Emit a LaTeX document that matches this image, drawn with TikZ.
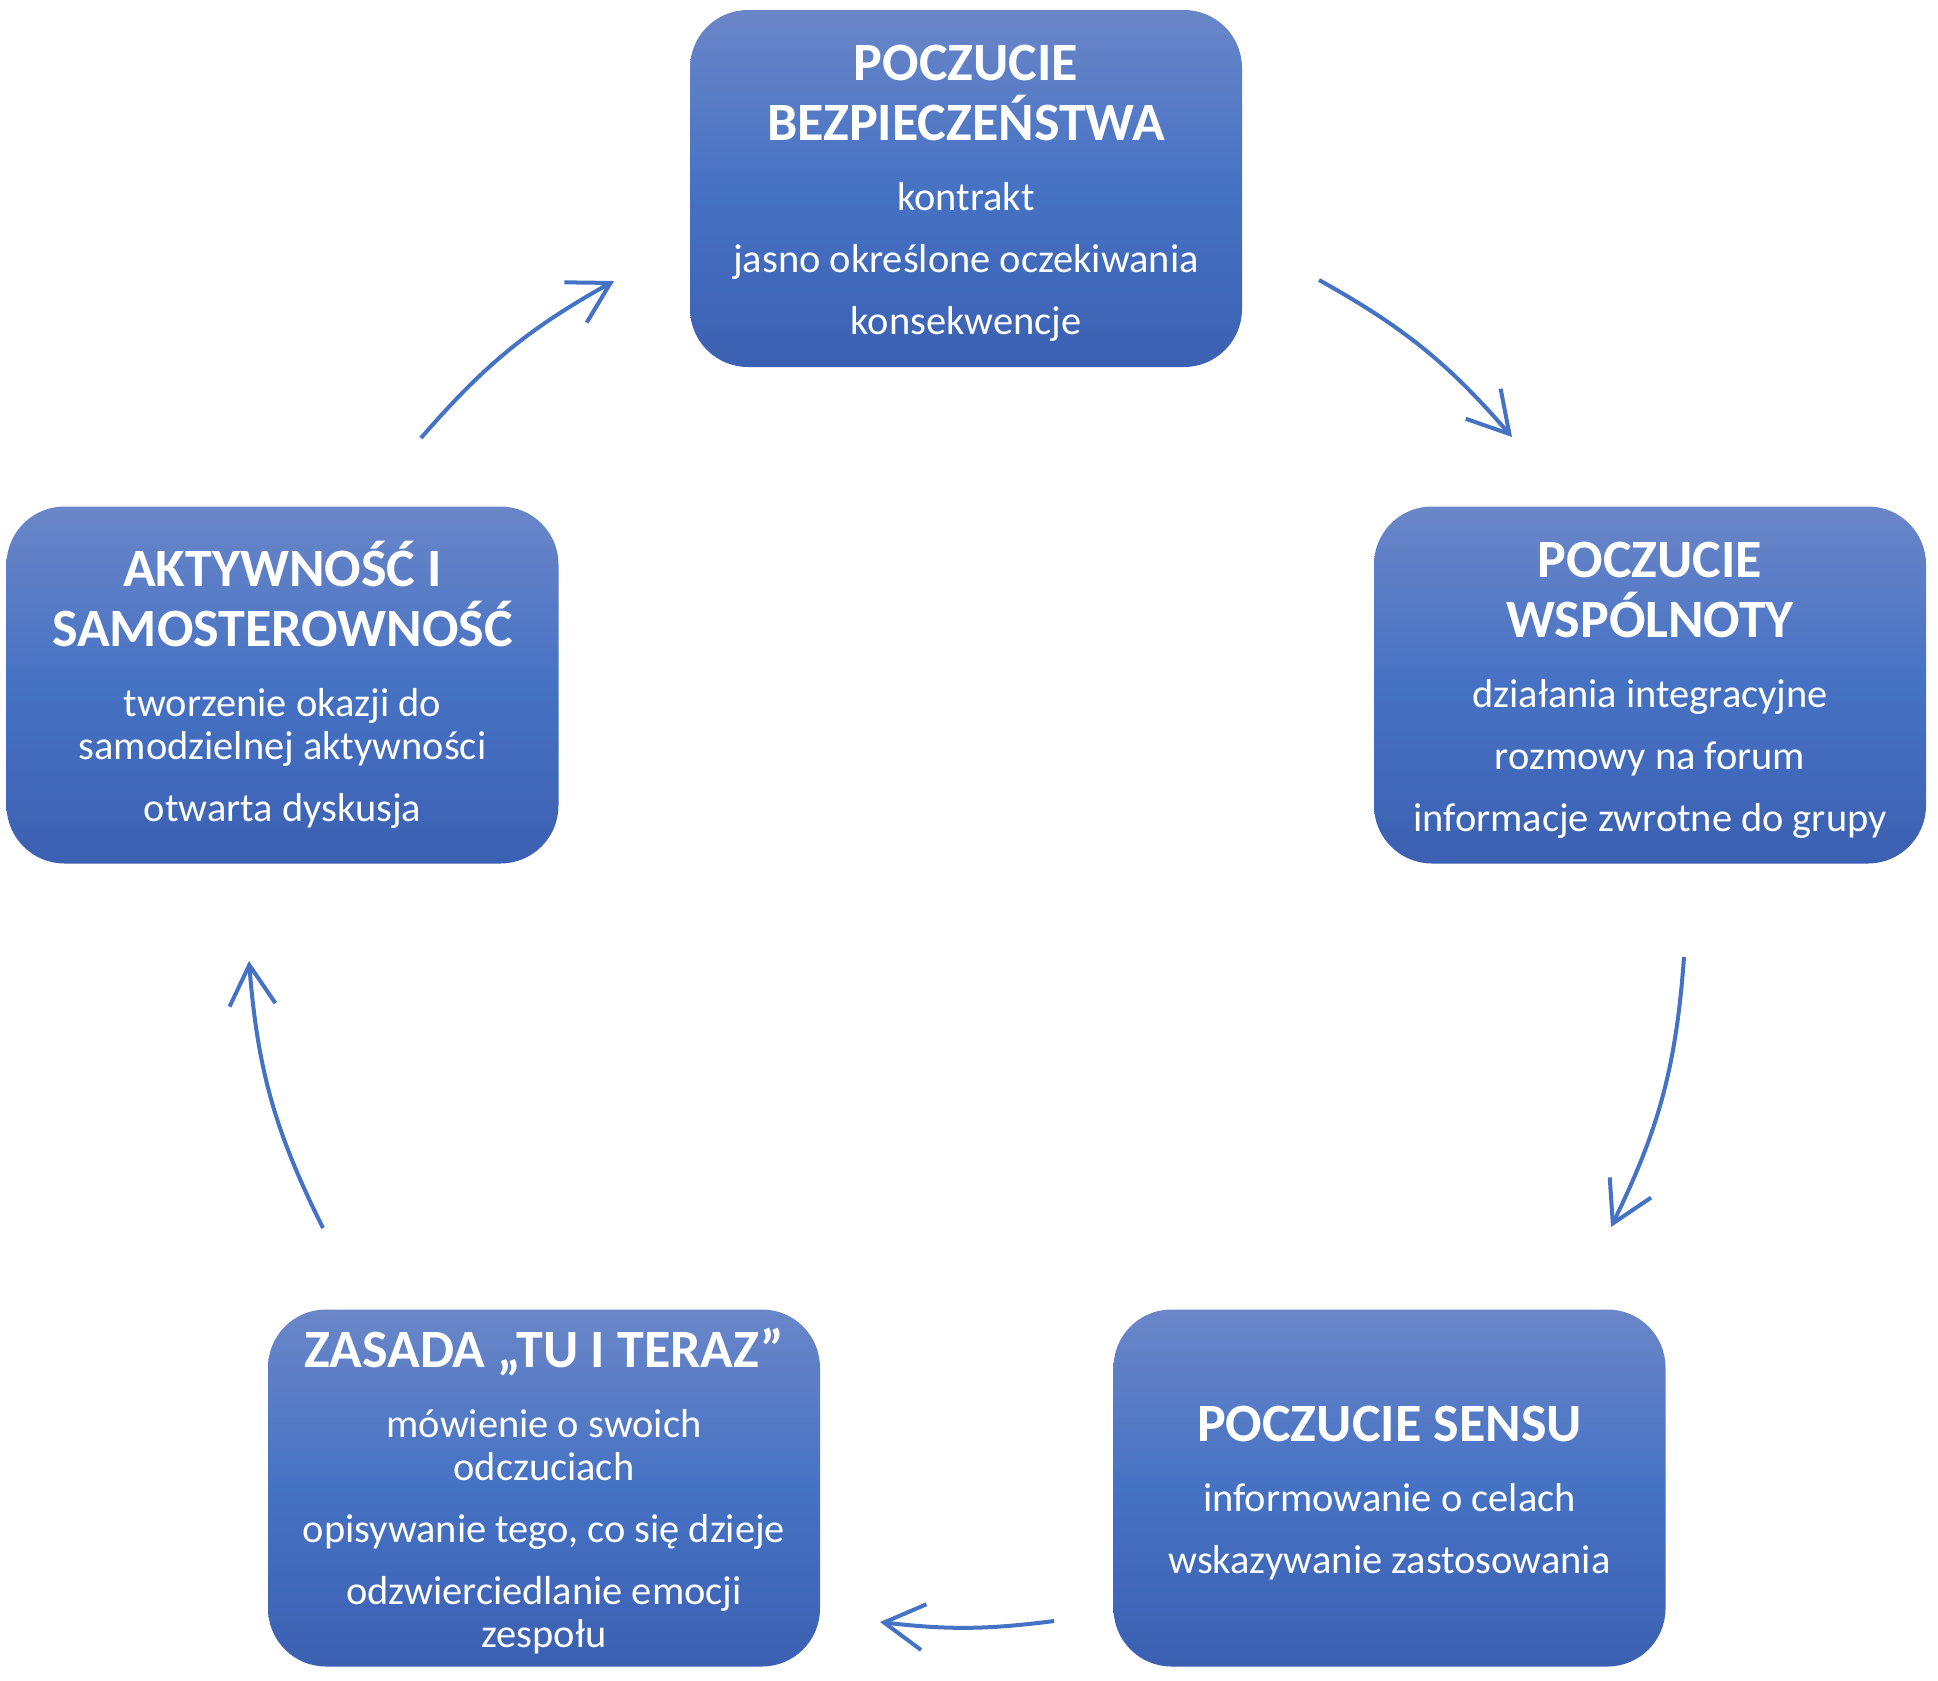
\documentclass[tikz,border=0pt]{standalone}
\usepackage{fontspec}
\setmainfont{Carlito}
\usetikzlibrary{arrows.meta}

\definecolor{boxtop}{RGB}{106,134,200}
\definecolor{boxmid}{RGB}{70,114,196}
\definecolor{boxbot}{RGB}{60,96,178}
\definecolor{arrowblue}{RGB}{68,114,196}

\newcommand{\phasefont}{\fontsize{20.2}{21.5}\selectfont\lineskiplimit=-100pt\relax}
\newcommand{\phasetitle}[1]{{\rule{0pt}{22.5pt}\bfseries\fontsize{27}{30}\selectfont #1}}

\tikzset{
  phase/.style={rounded corners=29pt, minimum width=276pt, minimum height=178.5pt,
    inner sep=0pt, top color=boxtop, bottom color=boxbot, middle color=boxmid,
    text=white, align=center, font=\phasefont},
  cyclearrow/.style={draw=arrowblue, line width=2pt,
    -{Straight Barb[length=20pt,width=23pt]}}
}

\begin{document}
\begin{tikzpicture}[x=0.5pt, y=-0.5pt]
        \useasboundingbox (0,0) rectangle (1938,1681);

        % 1. The five boxes
        \node[phase] (safety) at (966,188.5) {\phasetitle{POCZUCIE}\\[8.5pt]
            \phasetitle{BEZPIECZEŃSTWA}\\[13.5pt]
            kontrakt\\[9.5pt]
            jasno określone oczekiwania\\[9.5pt]
            konsekwencje};

        \node[phase] (community) at (1650,685) {\phasetitle{POCZUCIE}\\[8.5pt]
            \phasetitle{WSPÓLNOTY}\\[13.5pt]
            działania integracyjne\\[9.5pt]
            rozmowy na forum\\[9.5pt]
            informacje zwrotne do grupy};

        \node[phase] (sense) at (1389.5,1488) {\phasetitle{POCZUCIE SENSU}\\[13.5pt]
            informowanie o celach\\[9.5pt]
            wskazywanie zastosowania};

        \node[phase] (hereandnow) at (544,1488) {\phasetitle{ZASADA „TU I TERAZ”}\\[13.5pt]
            mówienie o swoich\\
            odczuciach\\[9.5pt]
            opisywanie tego, co się dzieje\\[9.5pt]
            odzwierciedlanie emocji\\
            zespołu};

        \node[phase] (activity) at (282.5,685) {\phasetitle{AKTYWNOŚĆ I}\\[8.5pt]
            \phasetitle{SAMOSTEROWNOŚĆ}\\[13.5pt]
            tworzenie okazji do\\
            samodzielnej aktywności\\[9.5pt]
            otwarta dyskusja};

        % 2. Arrow ends on the circle round the boxes
        \coordinate (a1s) at (1319,280);   \coordinate (a1e) at (1512,437);
        \coordinate (a2s) at (1684,957);   \coordinate (a2e) at (1611,1227);
        \coordinate (a3s) at (1054,1621);  \coordinate (a3e) at (880,1622);
        \coordinate (a4s) at (323,1228);   \coordinate (a4e) at (249,961);
        \coordinate (a5s) at (421,438);    \coordinate (a5e) at (614,281);

        % 3. The cycle arrows (clockwise)
        \draw[cyclearrow] (a1s) to[bend left=10] (a1e);
        \draw[cyclearrow] (a2s) to[bend left=11] (a2e);
        \draw[cyclearrow] (a3s) to[bend left=7] (a3e);
        \draw[cyclearrow] (a4s) to[bend left=11] (a4e);
        \draw[cyclearrow] (a5s) to[bend left=10] (a5e);

    \end{tikzpicture}
\end{document}
